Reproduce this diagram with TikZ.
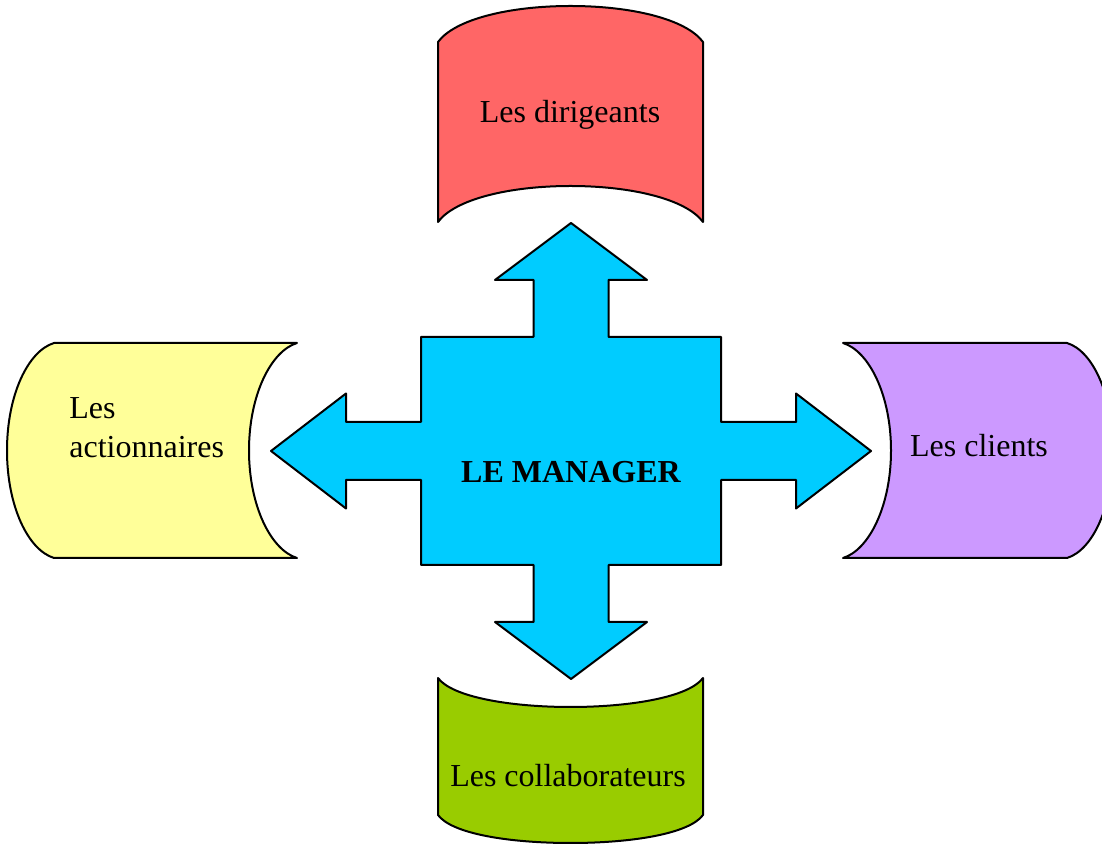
\documentclass[tikz,border=0pt]{standalone}
\usepackage{fontspec}
\setmainfont{Liberation Serif}
\usepackage{xcolor}
\definecolor{dirig}{HTML}{FF6666}
\definecolor{action}{HTML}{FFFF99}
\definecolor{client}{HTML}{CC99FF}
\definecolor{collab}{HTML}{99CC00}
\definecolor{manag}{HTML}{00CCFF}

\begin{document}
\begin{tikzpicture}[x=0.5pt, y=0.5pt,
    tank/.style = {draw=black, line width=1pt, line join=round},
    txt/.style  = {inner sep=0pt, font=\fontsize{16}{19.5}\selectfont}
                    ]
    \useasboundingbox (0,0) rectangle (1102,845);
    \clip (0,0) rectangle (1102,845);
    % top tank
    \draw[tank, fill=dirig] (438,623) -- (438,803)
        .. controls (455,826) and (510,839) .. (570.5,839)
        .. controls (631,839) and (686,826) .. (703,803)
        -- (703,623)
        .. controls (686,646) and (631,659) .. (570.5,659)
        .. controls (510,659) and (455,646) .. (438,623) -- cycle;
    % bottom tank
    \draw[tank, fill=collab] (438,30) -- (438,167)
        .. controls (452,148) and (510,138) .. (570.5,138)
        .. controls (631,138) and (689,148) .. (703,167)
        -- (703,30)
        .. controls (689,11) and (631,2) .. (570.5,2)
        .. controls (510,2) and (452,11) .. (438,30) -- cycle;
    % left tank
    \draw[tank, fill=action] (54,502) -- (297,502)
        .. controls (271,494) and (249,450) .. (249,394.5)
        .. controls (249,339) and (271,295) .. (297,287)
        -- (54,287)
        .. controls (28,295) and (7,339) .. (7,394.5)
        .. controls (7,450) and (28,494) .. (54,502) -- cycle;
    % right tank
    \draw[tank, fill=client] (843,502) -- (1067,502)
        .. controls (1093,494) and (1113,450) .. (1113,394.5)
        .. controls (1113,339) and (1093,295) .. (1067,287)
        -- (843,287)
        .. controls (869,295) and (891,339) .. (891,394.5)
        .. controls (891,450) and (869,494) .. (843,502) -- cycle;
    % the cross
    \coordinate (m) at (571,394);
    \draw[tank, fill=manag] ([shift={(0,228)}]m)
        -- ++(76,-57) -- ++(-38.5,0) -- ++(0,-57) -- ++(112.5,0)
        -- ++(0,-85) -- ++(75,0) -- ++(0,28.5) -- ++(75,-57.5)
        -- ++(-75,-57.5) -- ++(0,28.5) -- ++(-75,0) -- ++(0,-85)
        -- ++(-112.5,0) -- ++(0,-57) -- ++(38.5,0) -- ++(-76,-57)
        -- ++(-76,57) -- ++(38.5,0) -- ++(0,57) -- ++(-112.5,0)
        -- ++(0,85) -- ++(-75,0) -- ++(0,-28.5) -- ++(-75,57.5)
        -- ++(75,57.5) -- ++(0,-28.5) -- ++(75,0) -- ++(0,85)
        -- ++(112.5,0) -- ++(0,57) -- ++(-38.5,0) -- cycle;
    \node[txt, anchor=base] at (570,722) (dir) {Les dirigeants};
    \node[txt, anchor=base, font=\fontsize{16}{19.5}\selectfont\bfseries] at (571,362) (mgr) {LE MANAGER};
    \node[txt, anchor=base] at (979,388) (cli) {Les clients};
    \node[txt, anchor=base] at (568,58) (col) {Les collaborateurs};
    \node[txt, anchor=base west, align=left] at (69,387) (act) {Les\\actionnaires};
\end{tikzpicture}
\end{document}
